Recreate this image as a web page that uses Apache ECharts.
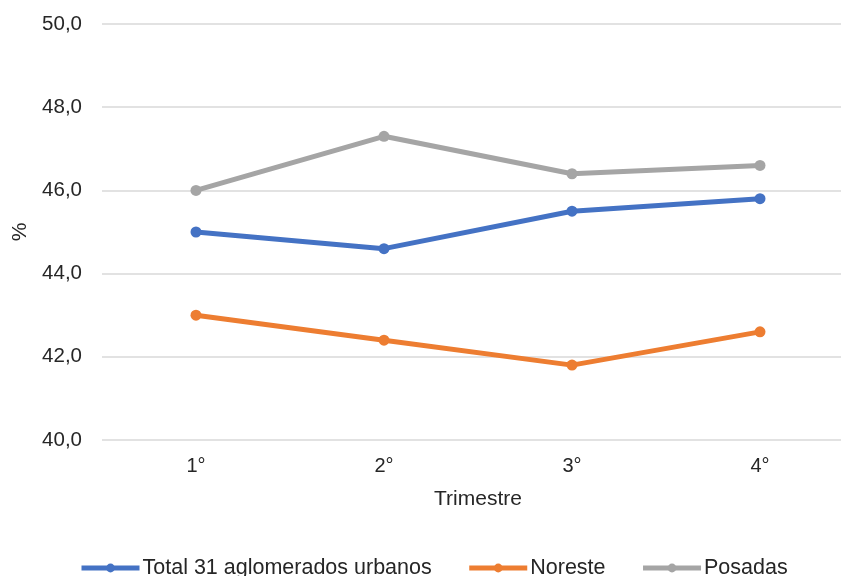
<!DOCTYPE html>
<html><head><meta charset="utf-8">
<script src="https://cdn.jsdelivr.net/npm/echarts@6/dist/echarts.min.js"></script>
<style>html,body{margin:0;padding:0;background:#fff}#c{width:841px;height:576px}</style>
</head><body><div id="c"></div>
<script>
const categories = ['1°', '2°', '3°', '4°'];
const seriesNames = ['Total 31 aglomerados urbanos', 'Noreste', 'Posadas'];
const totalUrbanos = [45.0, 44.6, 45.5, 45.8];
const noreste = [43.0, 42.4, 41.8, 42.6];
const posadas = [46.0, 47.3, 46.4, 46.6];
const colors = ['#4472C4', '#ED7D31', '#A5A5A5'];

const font = 'Liberation Sans, Arial, sans-serif';
const textColor = '#262626';
const chart = echarts.init(document.getElementById('c'), null, {renderer: 'canvas'});
const mk = (name, data, color) => ({
  name, type: 'line', data,
  symbol: 'circle', symbolSize: 11,
  itemStyle: {color},
  lineStyle: {color, width: 5},
  emphasis: {disabled: true}
});
chart.setOption({
  animation: false,
  textStyle: {fontFamily: font},
  grid: {left: 102, top: 24, width: 752, height: 416, containLabel: false, outerBoundsMode: 'none'},
  xAxis: {
    type: 'category', data: categories,
    axisLine: {show: false}, axisTick: {show: false},
    axisLabel: {color: textColor, fontSize: 20, margin: 16, fontFamily: font},
    name: 'Trimestre', nameLocation: 'middle', nameGap: 49,
    nameTextStyle: {color: textColor, fontSize: 21, fontFamily: font}
  },
  yAxis: {
    type: 'value', min: 40, max: 50, interval: 2,
    axisLine: {show: false}, axisTick: {show: false},
    splitLine: {lineStyle: {color: '#D9D9D9', width: 1.5}},
    axisLabel: {color: textColor, fontSize: 20.5, margin: 20, fontFamily: font,
      formatter: v => v.toFixed(1).replace('.', ',')},
    name: '%', nameLocation: 'middle', nameGap: 69, nameRotate: 90,
    nameTextStyle: {color: textColor, fontSize: 21, fontFamily: font}
  },
  legend: {
    left: 74, top: 552, itemWidth: 58, itemHeight: 11, itemGap: 35,
    lineStyle: {width: 5},
    textStyle: {color: textColor, fontSize: 21.5, fontFamily: font, padding: [0,0,0,-2]},
    data: seriesNames
  },
  series: [
    mk(seriesNames[0], totalUrbanos, colors[0]),
    mk(seriesNames[1], noreste, colors[1]),
    mk(seriesNames[2], posadas, colors[2])
  ]
});
</script></body></html>
